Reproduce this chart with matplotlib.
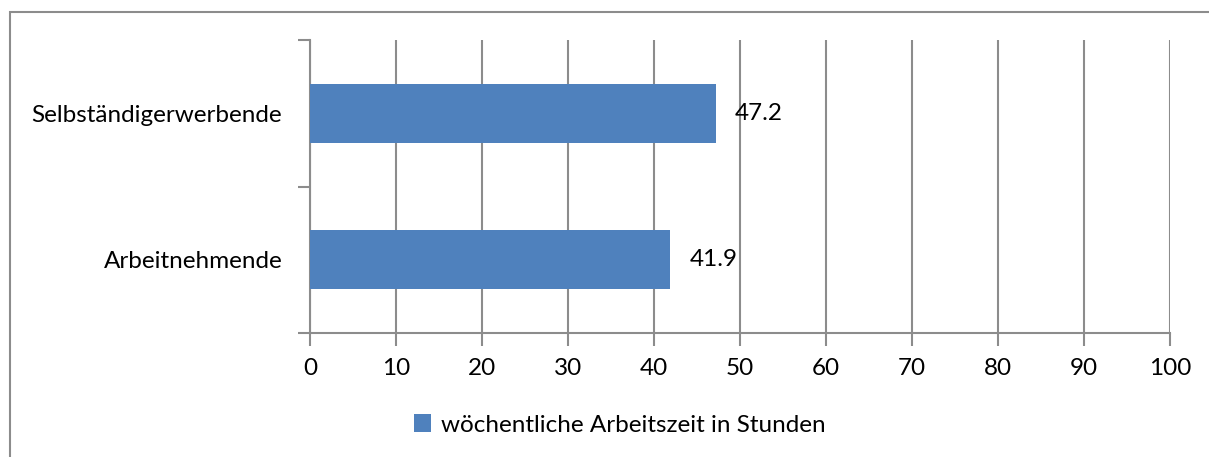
import matplotlib
matplotlib.use("Agg")
from matplotlib import pyplot as plt
from matplotlib.patches import Rectangle

categories = ["Arbeitnehmende", "Selbständigerwerbende"]
values = [41.9, 47.2]
series_name = "wöchentliche Arbeitszeit in Stunden"
xticks = list(range(0, 101, 10))

plt.rcParams["font.family"] = ["Lato", "DejaVu Sans"]
BAR = "#4F81BD"
GRID = "#8C8C8C"
FS = 17.5

W, H = 1209, 457
fig = plt.figure(figsize=(W / 100, H / 100), dpi=100)
ax = fig.add_axes([310 / W, 1 - 333 / H, (1170 - 310) / W, (333 - 40) / H])

# outer frame of the chart area
fig.patches.append(Rectangle((9.5 / W, -0.1), 1.2, 1 - 11.5 / H + 0.1,
                             transform=fig.transFigure, fill=False,
                             edgecolor="#8C8C8C", linewidth=1.5))

ypos = list(range(len(categories)))
ax.barh(ypos, values, height=0.4, color=BAR, zorder=3, label=series_name)
for y, v in zip(ypos, values):
    ax.annotate(f"{v:.1f}", (v, y), xytext=(19, 0), textcoords="offset pixels",
                va="center", ha="left", fontsize=FS)

ax.set_xlim(0, 100)
ax.set_ylim(-0.5, 1.5)
ax.set_xticks(xticks)
ax.set_xticklabels([str(t) for t in xticks], fontsize=FS)
ax.set_yticks([-0.5, 0.5, 1.5])
ax.set_yticks(ypos, minor=True)
ax.set_yticklabels([])
ax.set_yticklabels(categories, minor=True, fontsize=FS)
ax.tick_params(axis="y", which="minor", length=0, pad=20)
ax.tick_params(axis="y", which="major", length=9, color=GRID, width=1.5)
ax.tick_params(axis="x", length=9, color=GRID, width=1.5, pad=9)
ax.xaxis.grid(True, color=GRID, linewidth=1.5, zorder=0)
ax.set_axisbelow(True)
for s in ["top", "right"]:
    ax.spines[s].set_visible(False)
for s in ["left", "bottom"]:
    ax.spines[s].set_color(GRID)
    ax.spines[s].set_linewidth(1.5)

fig.legend(loc="center", bbox_to_anchor=(620 / W, 1 - 425 / H), frameon=False,
           fontsize=FS, handlelength=0.7, handleheight=0.7, handletextpad=0.4)

fig.savefig("out.png", dpi=100)
